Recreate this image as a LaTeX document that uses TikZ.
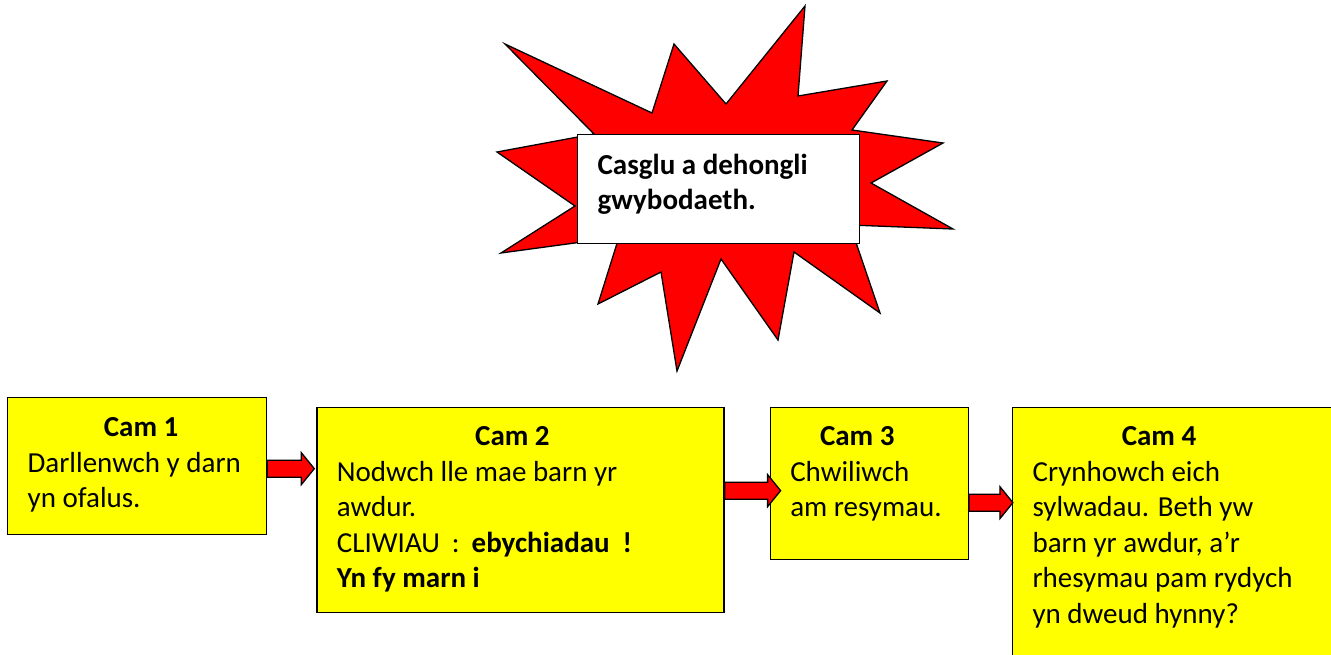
\documentclass[tikz,border=0pt]{standalone}
\usepackage{fontspec}
\setmainfont{Carlito}
\usetikzlibrary{positioning, calc}
\definecolor{camyellow}{RGB}{255,255,0}
\definecolor{burstred}{RGB}{255,0,0}

\newcommand{\camhead}[2][0pt]{\makebox[\linewidth]{\hspace*{#1}\bfseries Cam #2}\\}
\newcommand{\redarrow}[2]{%
  \filldraw[flow] ($(#1)+(0,-8.5)$) -- ($(#2)+(-13,-8.5)$) -- ($(#2)+(-13,-16)$) -- (#2)
    -- ($(#2)+(-13,16)$) -- ($(#2)+(-13,8.5)$) -- ($(#1)+(0,8.5)$) -- cycle;}

\begin{document}
\begin{tikzpicture}[x=1pt, y=-1pt,
  stepbox/.style={rectangle, draw=black, fill=camyellow, line width=1.3pt, align=flush left, inner xsep=20pt, inner ysep=0pt, text height=38pt, font=\fontsize{29}{35.5}\selectfont},
  titlebox/.style={rectangle, draw=black, fill=white, line width=1.3pt, align=flush left, inner xsep=20pt, inner ysep=0pt, text width=242pt, text height=40pt, text depth=69pt, font=\fontsize{29}{34.5}\selectfont\bfseries},
  burst/.style={draw=black, fill=burstred, line width=1.3pt, line join=miter},
  flow/.style={draw=black, fill=burstred, line width=1.3pt}
]
\useasboundingbox (0,0) rectangle (1331,654);
\clip (0,0) rectangle (1331,654);

% starburst
\filldraw[burst] (505,44) -- (652,113) -- (674,44) -- (726,104) -- (805,6) -- (798,96)
  -- (887,81) -- (852,130) -- (943,143) -- (871,183) -- (953,229) -- (850,225)
  -- (880,313) -- (794,252) -- (778,340) -- (721,259) -- (677,371) -- (661,272)
  -- (598,304) -- (619,237) -- (501,253) -- (575,206) -- (497,152) -- (594,134) -- cycle;
\node[titlebox, anchor=north west] (title) at (577,134) {Casglu a dehongli\\gwybodaeth.};

% steps
\node[stepbox, anchor=north west, text width=219pt, text height=39pt, text depth=98pt] (cam1) at (7,397)
  {\camhead[8pt]{1}Darllenwch y darn\\yn ofalus.};
\node[stepbox, right=49pt of cam1.north east, anchor=north west, yshift=-10pt, text width=367pt, text depth=167pt] (cam2)
  {\camhead[-16pt]{2}Nodwch lle mae barn yr\\awdur.\\CLIWIAU\hspace{12pt}:\hspace{12pt}\textbf{ebychiadau\hspace{13pt}!}\\\textbf{Yn fy marn i}};
\node[stepbox, right=45pt of cam2.north east, anchor=north west, text width=158pt, text depth=114pt] (cam3)
  {\camhead[-24pt]{3}Chwiliwch\\am resymau.};
\node[stepbox, right=43pt of cam3.north east, anchor=north west, text width=281pt, text depth=262pt] (cam4)
  {\camhead[-28pt]{4}Crynhowch eich\\sylwadau. Beth yw\\barn yr awdur, a’r\\rhesymau pam rydych\\yn dweud hynny?};

% arrows
\coordinate (a1) at ([yshift=-2.5pt]cam1.east);
\coordinate (b1) at ($(cam2.west |- a1)+(-2,0)$);
\coordinate (a2) at ([yshift=19.5pt]cam2.east);
\coordinate (b2) at ($(cam3.west |- a2)+(11,0)$);
\coordinate (a3) at ([yshift=-19pt]cam3.east);
\coordinate (b3) at ($(cam4.west |- a3)+(1,0)$);
\redarrow{a1}{b1}
\redarrow{a2}{b2}
\redarrow{a3}{b3}
\end{tikzpicture}
\end{document}
